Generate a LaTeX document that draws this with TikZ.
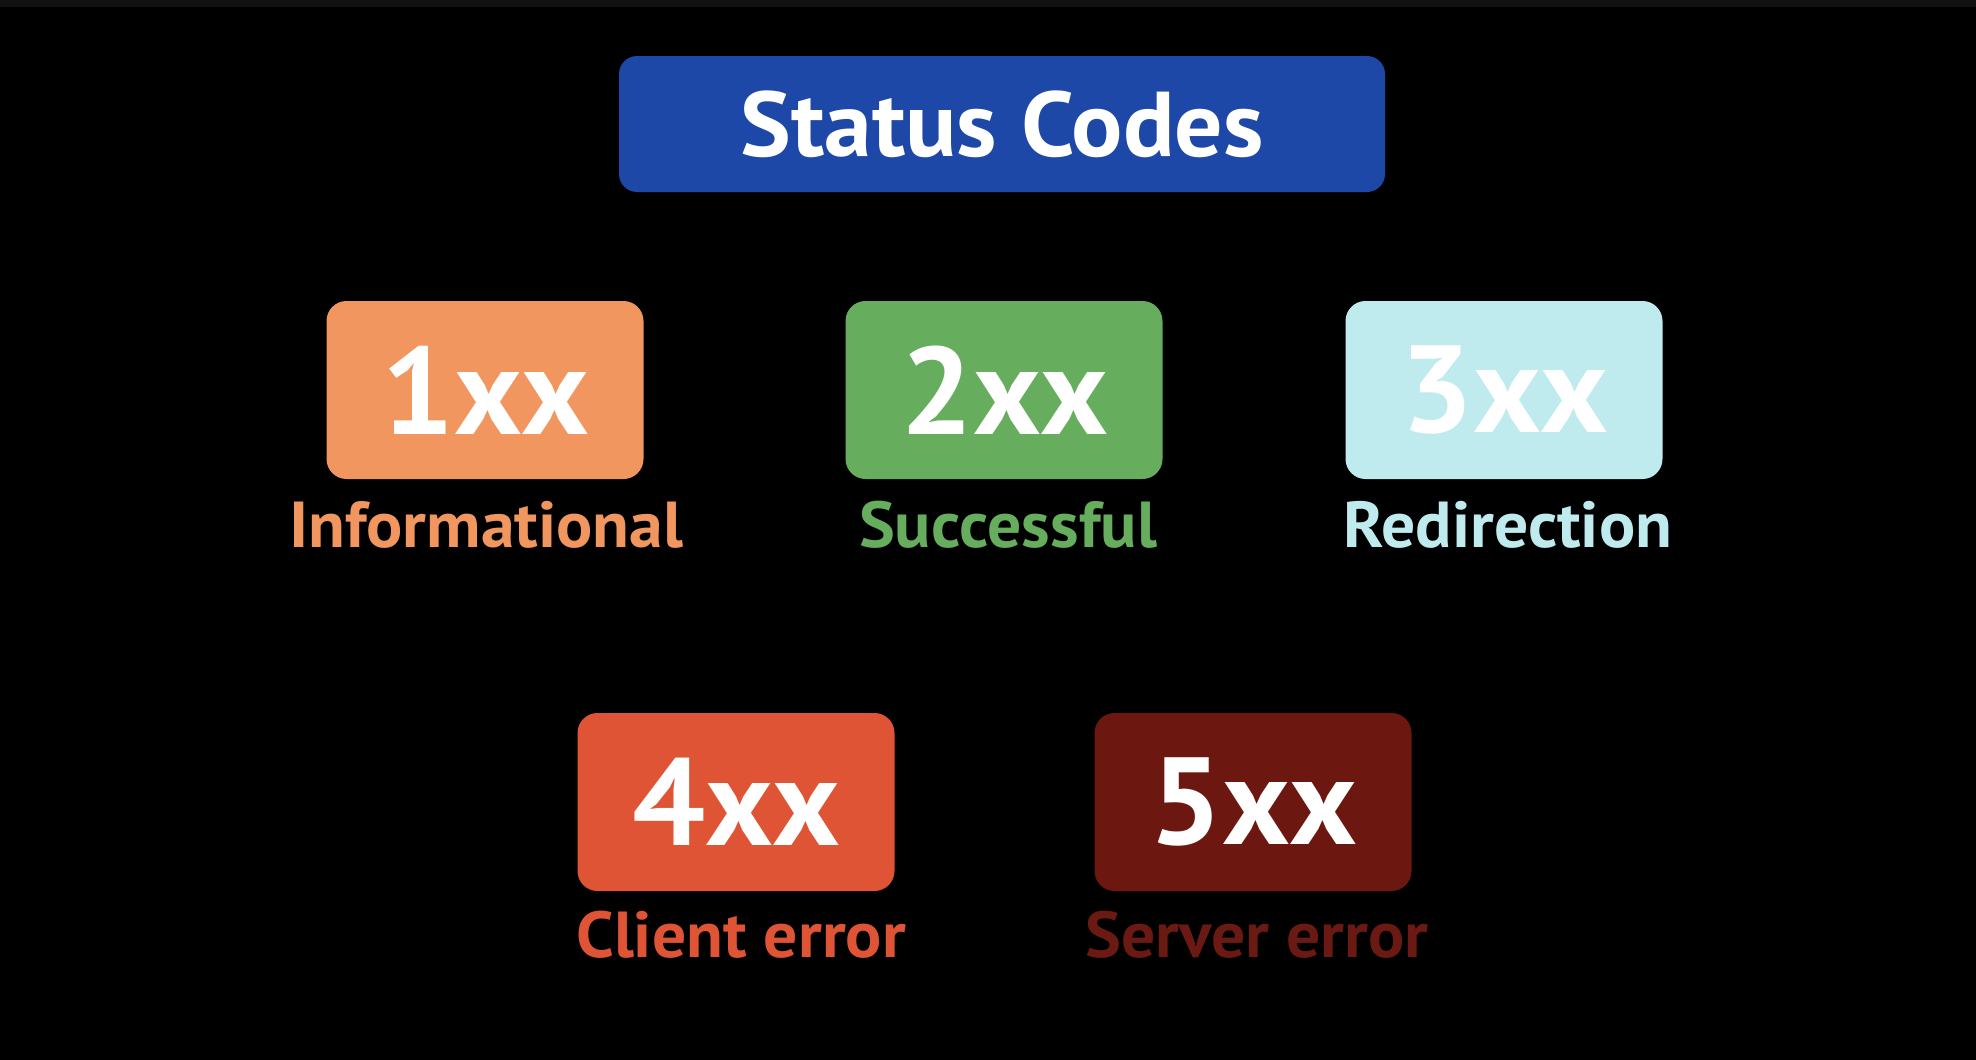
\documentclass[tikz,border=0pt]{standalone}
\usepackage{fontspec}
\setmainfont{PT Sans}
\definecolor{bgstrip}{HTML}{111111}
\definecolor{titleblue}{HTML}{1E48A8}
\definecolor{c1}{HTML}{F0965E}
\definecolor{c2}{HTML}{66AE5E}
\definecolor{c3}{HTML}{BFEBEE}
\definecolor{c4}{HTML}{E05436}
\definecolor{c5}{HTML}{6D1711}
\definecolor{c5t}{HTML}{6B1A13}
\newcommand{\widen}[1]{\scalebox{1.04}[1]{#1}}
\begin{document}
\begin{tikzpicture}[x=1pt,y=-1pt,
  codebox/.style={rounded corners=20pt, minimum width=317pt, minimum height=178pt,
    inner sep=0pt, text=white, font=\bfseries\fontsize{124}{124}\selectfont},
  titlebox/.style={rounded corners=18pt, fill=titleblue, minimum width=766pt, minimum height=136pt,
    inner sep=0pt, text=white, font=\bfseries\fontsize{92}{92}\selectfont},
  caption/.style={anchor=base, inner sep=0pt, font=\bfseries\fontsize{65}{65}\selectfont}]
\useasboundingbox (0,0) rectangle (1976,1060);
\fill[black] (0,0) rectangle (1976,1060);
\fill[bgstrip] (0,0) rectangle (1976,7);
\node[titlebox] (title) at (1002,124) {\widen{Status Codes}};
\node[codebox, fill=c1] (b1) at (485,390) {\widen{1xx}};
\node[codebox, fill=c2] (b2) at (1004,390) {\widen{2xx}};
\node[codebox, fill=c3] (b3) at (1504,390) {\widen{3xx}};
\node[codebox, fill=c4] (b4) at (736,802) {\widen{4xx}};
\node[codebox, fill=c5] (b5) at (1253,802) {\widen{5xx}};
\node[caption, text=c1] (l1) at (486,547) {\widen{Informational}};
\node[caption, text=c2] (l2) at (1008,547) {\widen{Successful}};
\node[caption, text=c3] (l3) at (1508,547) {\widen{Redirection}};
\node[caption, text=c4] (l4) at (741,957) {\widen{Client error}};
\node[caption, text=c5t] (l5) at (1257,957) {\widen{Server error}};
\end{tikzpicture}
\end{document}
